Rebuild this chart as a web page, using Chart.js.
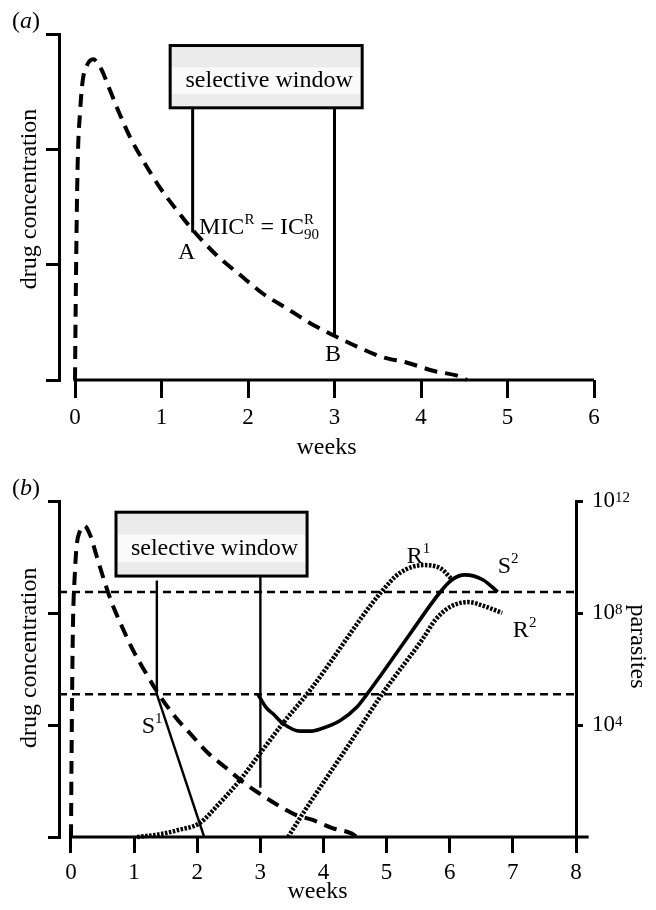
<!DOCTYPE html>
<html>
<head>
<meta charset="utf-8">
<script src="https://cdn.jsdelivr.net/npm/chart.js@4.4.1/dist/chart.umd.min.js"></script>
<style>
	html, body { margin: 0; padding: 0; background: #fff; }
	body { width: 656px; height: 910px; position: relative; overflow: hidden; font-family: "Liberation Serif", "Times New Roman", serif; }
	canvas { position: absolute; left: 0; }
	#chartA { top: 0; width: 656px; height: 470px; }
	#chartB { top: 455px; width: 656px; height: 455px; }
	.panel { position: absolute; left: 12px; font-size: 24px; line-height: 26px; color: #000; }
</style>
</head>
<body>
<canvas id="chartA" width="656" height="470"></canvas>
<canvas id="chartB" width="656" height="455"></canvas>
<div class="panel" style="top:7px">(<i>a</i>)</div>
<div class="panel" style="top:474px">(<i>b</i>)</div>
<script>
(function () {
	'use strict';

	var SERIF = "'Liberation Serif', 'Times New Roman', serif";

	// dashed drug curve (weeks, concentration in tick units)
	var drugWeeks = [0, 0.01, 0.03, 0.06, 0.09, 0.14, 0.21, 0.3, 0.4, 0.52, 0.64, 0.79, 0.98, 1.18, 1.35, 1.64, 1.91, 2.17, 2.45, 2.75, 2.98, 3.26, 3.55, 3.84, 4.14, 4.45, 4.53];
	var drugLevel = [0, 0.8, 1.85, 2.34, 2.6, 2.73, 2.78, 2.7, 2.52, 2.3, 2.1, 1.9, 1.67, 1.47, 1.31, 1.08, 0.91, 0.75, 0.62, 0.48, 0.39, 0.29, 0.2, 0.15, 0.08, 0.03, 0];

	// parasite numbers as log10
	var s1Weeks = [1.36, 2.11];
	var s1Log = [5.1, 0];
	var s2Weeks = [2.96, 3.1, 3.2, 3.36, 3.63, 3.79, 3.94, 4.26, 4.53, 4.69, 4.9, 5.4, 5.85, 6.03, 6.24, 6.53, 6.76];
	var s2Log = [5.1, 4.6, 4.4, 4.05, 3.78, 3.78, 3.85, 4.15, 4.64, 5.1, 5.75, 7.35, 8.75, 9.18, 9.36, 9.18, 8.75];
	var r1Weeks = [1.05, 1.41, 1.7, 2.04, 2.35, 2.68, 3.0, 3.36, 3.79, 4.9, 5.21, 5.58, 5.85, 6.03];
	var r1Log = [0, 0.1, 0.25, 0.5, 1.2, 2.04, 3.0, 4.07, 5.25, 8.71, 9.43, 9.71, 9.6, 9.21];
	var r2Weeks = [3.44, 3.66, 4.42, 4.94, 5.58, 5.77, 6.0, 6.29, 6.59, 6.83];
	var r2Log = [0, 0.79, 3.36, 5.14, 7.1, 7.75, 8.21, 8.39, 8.21, 8.0];
	var thresholdLog = [8.75, 5.1];

	// selective window edges (weeks) and where the lines meet the drug curve
	var windowWeeks = [1.36, 3.0];
	var windowLowA = [1.28, 0.39];
	var windowLowB = [1.28, 0.44];

	var weekTicksA = [0, 1, 2, 3, 4, 5, 6];
	var weekTicksB = [0, 1, 2, 3, 4, 5, 6, 7, 8];
	var drugTicks = [0, 1, 2, 3];
	var parasiteTicks = [4, 8, 12];
	var parasiteExp = ['4', '8', '12'];

	function points(xs, ys) {
		return xs.map(function (x, i) {
			return { x: x, y: ys[i] };
		});
	}

	function fixedTicks(values) {
		return function (scale) {
			scale.ticks = values.map(function (v) { return { value: v }; });
		};
	}

	function blackGrid(len) {
		return { display: true, drawOnChartArea: false, drawTicks: true, tickLength: len, lineWidth: 3, color: '#000' };
	}

	function line(data, width, dash, yAxis, smooth) {
		return {
			data: data,
			yAxisID: yAxis || 'y',
			borderColor: '#000',
			borderWidth: width,
			borderDash: dash || [],
			borderCapStyle: 'butt',
			cubicInterpolationMode: smooth ? 'monotone' : 'default',
			tension: 0,
			pointRadius: 0,
			fill: false,
			clip: false
		};
	}

	function dotted(data) {
		return line(data, 4.5, [2.5, 1.5], 'yP', true);
	}

	function drawPieces(ctx, x, y, pieces) {
		var cx = x;
		pieces.forEach(function (p) {
			var size = p.kind ? 15 : 24;
			var dy = p.kind === 'sup' ? -10 : (p.kind === 'sub' ? 5 : 0);
			ctx.font = size + 'px ' + SERIF;
			ctx.fillText(p.text, cx, y + dy);
			if (!p.hold) {
				cx += ctx.measureText(p.text).width;
			}
		});
	}

	function overlay(opts) {
		return {
			id: 'overlay',
			afterDatasetsDraw: function (chart) {
				var ctx = chart.ctx,
					xs = chart.scales.x,
					ys = chart.scales.y,
					area = chart.chartArea,
					box = opts.box;

				ctx.save();
				// x axis line starts at week 0, apart from the y axis
				ctx.strokeStyle = '#000';
				ctx.lineWidth = 3;
				ctx.beginPath();
				ctx.moveTo(xs.getPixelForValue(0) - 1.5, area.bottom);
				ctx.lineTo(xs.getPixelForValue(opts.axisEnd), area.bottom);
				ctx.stroke();

				// selective window box
				var l = xs.getPixelForValue(box.x0),
					r = xs.getPixelForValue(box.x1),
					t = ys.getPixelForValue(box.y1),
					b = ys.getPixelForValue(box.y0),
					h = b - t;
				ctx.fillStyle = '#ebebeb';
				ctx.fillRect(l, t, r - l, h);
				ctx.fillStyle = '#fafafa';
				ctx.fillRect(l + 2, t + h * 0.35, r - l - 4, h * 0.43);
				ctx.lineWidth = 3;
				ctx.strokeRect(l, t, r - l, h);
				ctx.fillStyle = '#000';
				ctx.font = '24px ' + SERIF;
				ctx.textAlign = 'center';
				ctx.textBaseline = 'middle';
				ctx.fillText('selective window', (l + r) / 2 + 3, t + h * 0.57);

				// rotated axis titles
				opts.titles.forEach(function (tt) {
					var sc = chart.scales[tt.axis];
					ctx.save();
					ctx.translate(tt.px, sc.getPixelForValue(tt.value));
					ctx.rotate(tt.angle);
					ctx.font = '24px ' + SERIF;
					ctx.textAlign = 'center';
					ctx.textBaseline = 'middle';
					ctx.fillText(tt.text, 0, 0);
					ctx.restore();
				});

				ctx.textAlign = 'left';
				ctx.textBaseline = 'alphabetic';
				opts.labels.forEach(function (lab) {
					var sc = chart.scales[lab.axis];
					drawPieces(ctx, xs.getPixelForValue(lab.x), sc.getPixelForValue(lab.y), lab.pieces);
				});

				// exponents for the 10^n tick labels
				if (chart.scales.yP) {
					var yp = chart.scales.yP;
					ctx.font = '23px ' + SERIF;
					var baseW = ctx.measureText('10').width;
					ctx.font = '15px ' + SERIF;
					parasiteTicks.forEach(function (v, i) {
						ctx.fillText(parasiteExp[i], area.right + 16 + baseW, yp.getPixelForValue(v) + 1);
					});
				}
				ctx.restore();
			}
		};
	}

	var tickFont = { family: SERIF, size: 23 };
	var titleFont = { family: SERIF, size: 24 };

	new Chart(document.getElementById('chartA'), {
		type: 'line',
		data: {
			datasets: [
				line(points(drugWeeks, drugLevel), 4, [13, 8], 'y', true),
				line(points([windowWeeks[0], windowWeeks[0]], [windowLowA[0], 2.36]), 3),
				line(points([windowWeeks[1], windowWeeks[1]], [windowLowA[1], 2.36]), 3)
			]
		},
		options: {
			responsive: false,
			animation: false,
			events: [],
			layout: { padding: { top: 34, right: 62, left: 0, bottom: 0 } },
			plugins: { legend: { display: false }, tooltip: { enabled: false } },
			scales: {
				x: {
					type: 'linear', min: -0.185, max: 6,
					afterBuildTicks: fixedTicks(weekTicksA),
					afterFit: function (s) { s.height = 90; },
					grid: blackGrid(18),
					border: { display: false },
					ticks: { color: '#000', font: tickFont, padding: 6, maxRotation: 0, autoSkip: false },
					title: { display: true, text: 'weeks', color: '#000', font: titleFont, padding: { top: 0, bottom: 8 } }
				},
				y: {
					min: 0, max: 3,
					afterBuildTicks: fixedTicks(drugTicks),
					afterFit: function (s) { s.width = 59; },
					grid: blackGrid(13),
					border: { display: true, width: 3, color: '#000' },
					ticks: { display: false }
				}
			}
		},
		plugins: [overlay({
			box: { x0: 1.10, x1: 3.32, y0: 2.36, y1: 2.90 },
			axisEnd: 6,
			titles: [{ text: 'drug concentration', axis: 'y', value: 1.57, px: 30, angle: -Math.PI / 2 }],
			labels: [
				{ axis: 'y', x: 1.434, y: 1.266, pieces: [
					{ text: 'MIC' }, { text: 'R', kind: 'sup' }, { text: ' = IC' },
					{ text: 'R', kind: 'sup', hold: true }, { text: '90', kind: 'sub' }] },
				{ axis: 'y', x: 1.19, y: 1.05, pieces: [{ text: 'A' }] },
				{ axis: 'y', x: 2.89, y: 0.165, pieces: [{ text: 'B' }] }
			]
		})]
	});

	new Chart(document.getElementById('chartB'), {
		type: 'line',
		data: {
			datasets: [
				line(points([-0.19, 8], [thresholdLog[0], thresholdLog[0]]), 2.5, [8, 5], 'yP'),
				line(points([-0.19, 8], [thresholdLog[1], thresholdLog[1]]), 2.5, [8, 5], 'yP'),
				line(points(drugWeeks, drugLevel), 4, [13, 8], 'y', true),
				line(points([windowWeeks[0], windowWeeks[0]], [windowLowB[0], 2.29]), 2.4),
				line(points([windowWeeks[1], windowWeeks[1]], [windowLowB[1], 2.33]), 2.4),
				line(points(s1Weeks, s1Log), 2.4, null, 'yP'),
				dotted(points(r1Weeks, r1Log)),
				dotted(points(r2Weeks, r2Log)),
				line(points(s2Weeks, s2Log), 3.6, null, 'yP', true)
			]
		},
		options: {
			responsive: false,
			animation: false,
			events: [],
			layout: { padding: { top: 46, right: 0, left: 0, bottom: 0 } },
			plugins: { legend: { display: false }, tooltip: { enabled: false } },
			scales: {
				x: {
					type: 'linear', min: -0.19, max: 8,
					afterBuildTicks: fixedTicks(weekTicksB),
					afterFit: function (s) { s.height = 73; },
					grid: blackGrid(16),
					border: { display: false },
					ticks: { color: '#000', font: tickFont, padding: 6, maxRotation: 0, autoSkip: false },
					title: { display: true, text: 'weeks', color: '#000', font: titleFont, padding: { top: 0, bottom: 4 } }
				},
				y: {
					position: 'left',
					min: 0, max: 3,
					afterBuildTicks: fixedTicks(drugTicks),
					afterFit: function (s) { s.width = 59; },
					grid: blackGrid(11),
					border: { display: true, width: 3, color: '#000' },
					ticks: { display: false }
				},
				yP: {
					position: 'right',
					min: 0, max: 12,
					afterBuildTicks: fixedTicks(parasiteTicks),
					afterFit: function (s) { s.width = 80; },
					grid: blackGrid(7),
					border: { display: true, width: 3, color: '#000' },
					ticks: {
						color: '#000', font: tickFont, padding: 9,
						callback: function () { return '10'; }
					}
				}
			}
		},
		plugins: [overlay({
			box: { x0: 0.713, x1: 3.74, y0: 2.33, y1: 2.90 },
			axisEnd: 8.2,
			titles: [
				{ text: 'drug concentration', axis: 'y', value: 1.6, px: 30, angle: -Math.PI / 2 },
				{ text: 'parasites', axis: 'yP', value: 6.8, px: 637, angle: Math.PI / 2 }
			],
			labels: [
				{ axis: 'yP', x: 5.32, y: 9.79, pieces: [{ text: 'R' }, { text: '1', kind: 'sup' }] },
				{ axis: 'yP', x: 6.76, y: 9.43, pieces: [{ text: 'S' }, { text: '2', kind: 'sup' }] },
				{ axis: 'yP', x: 7.0, y: 7.14, pieces: [{ text: 'R' }, { text: '2', kind: 'sup' }] },
				{ axis: 'yP', x: 1.12, y: 3.71, pieces: [{ text: 'S' }, { text: '1', kind: 'sup' }] }
			]
		})]
	});
})();
</script>
</body>
</html>
